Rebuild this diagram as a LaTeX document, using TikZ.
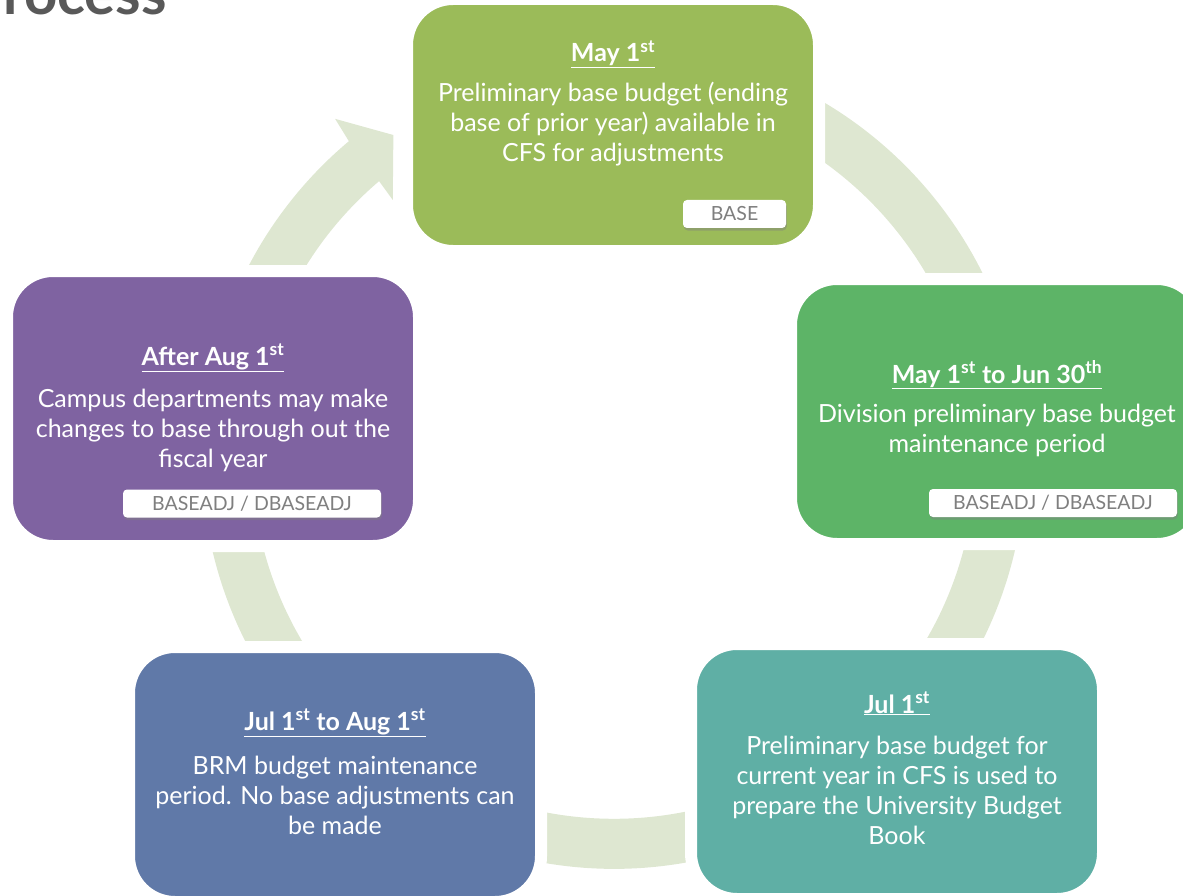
\documentclass[tikz,border=0pt]{standalone}
\usepackage{fontspec}
\setmainfont{Lato}
\usetikzlibrary{shadows,calc}
\definecolor{ringc}{HTML}{DEE7D1}
\definecolor{cTop}{HTML}{9BBB59}
\definecolor{cRight}{HTML}{5DB467}
\definecolor{cTeal}{HTML}{5FAFA5}
\definecolor{cBlue}{HTML}{6079A8}
\definecolor{cPurple}{HTML}{7F63A1}
\definecolor{cTitle}{HTML}{595959}
\definecolor{cLabel}{HTML}{7F7F7F}
\begin{document}
\begin{tikzpicture}[x=1pt,y=-1pt,
  stage/.style={draw=white, line width=12pt, rounded corners=46pt, inner sep=0pt, minimum width=412pt},
  tag/.style={fill=white, rounded corners=4pt, text=cLabel, inner sep=0pt,
    font=\fontsize{19.5}{22}\selectfont, minimum height=28pt,
    drop shadow={shadow xshift=0.8pt, shadow yshift=-2.5pt, fill=black!50, opacity=0.45}},
  head/.style={text=white, font=\fontsize{25}{30}\selectfont\bfseries, anchor=base, inner sep=0pt},
  body/.style={text=white, font=\fontsize{25}{30}\selectfont, align=center, anchor=base, inner sep=0pt}]
\useasboundingbox (0,0) rectangle (1183,896);
\coordinate (c) at (613.7,456.8);
% ring arrow
\fill[ringc] ($(c)+(80:412pt)$) arc[start angle=80, end angle=-230, radius=412pt]
  -- ($(c)+(-230.5:438pt)$) -- ($(c)+(-235.6:390pt)$) -- ($(c)+(-229.3:338.8pt)$)
  -- ($(c)+(-229.6:362pt)$) arc[start angle=-229.6, end angle=80, radius=362pt] -- cycle;
% title
\node[anchor=base west, font=\fontsize{58}{60}\selectfont\bfseries, text=cTitle, inner sep=0pt] (title) at (3,15) {rocess};
% boxes
\node[stage, fill=cTop, minimum height=252pt] (may) at (613,125) {};
\node[stage, fill=cRight, minimum height=265pt] (div) at (997,411.5) {};
\node[stage, fill=cTeal, minimum height=255pt] (jul) at (897,771.5) {};
\node[stage, fill=cBlue, minimum height=255pt] (brm) at (335,774.5) {};
\node[stage, fill=cPurple, minimum height=275pt] (aug) at (213,408.5) {};
% texts (body anchors sit on the last line's baseline)
\node[head] (mayh) at (613,62) {\underline{May 1\textsuperscript{st}}};
\node[body] (mayb) at (613,162) {Preliminary base budget (ending\\base of prior year) available in\\CFS for adjustments};
\node[tag, minimum width=103pt] (mayt) at (734.5,214) {BASE};

\node[head] (divh) at (997,383) {\underline{May 1\textsuperscript{st} to Jun 30\textsuperscript{th}}};
\node[body] (divb) at (997,452) {Division preliminary base budget\\maintenance period};
\node[tag, minimum width=248pt] (divt) at (1053,503) {BASEADJ / DBASEADJ};

\node[head] (julh) at (897,713) {\underline{Jul 1\textsuperscript{st}}};
\node[body] (julb) at (897,844) {Preliminary base budget for\\current year in CFS is used to\\prepare the University Budget\\Book};

\node[head] (brmh) at (335,730) {\underline{Jul 1\textsuperscript{st} to Aug 1\textsuperscript{st}}};
\node[body] (brmb) at (335,834) {BRM budget maintenance\\period. No base adjustments can\\be made};

\node[head] (augh) at (213,365) {\underline{After Aug 1\textsuperscript{st}}};
\node[body] (augb) at (213,467) {Campus departments may make\\changes to base through out the\\fiscal year};
\node[tag, minimum width=258pt] (augt) at (252,503.5) {BASEADJ / DBASEADJ};
\end{tikzpicture}
\end{document}
